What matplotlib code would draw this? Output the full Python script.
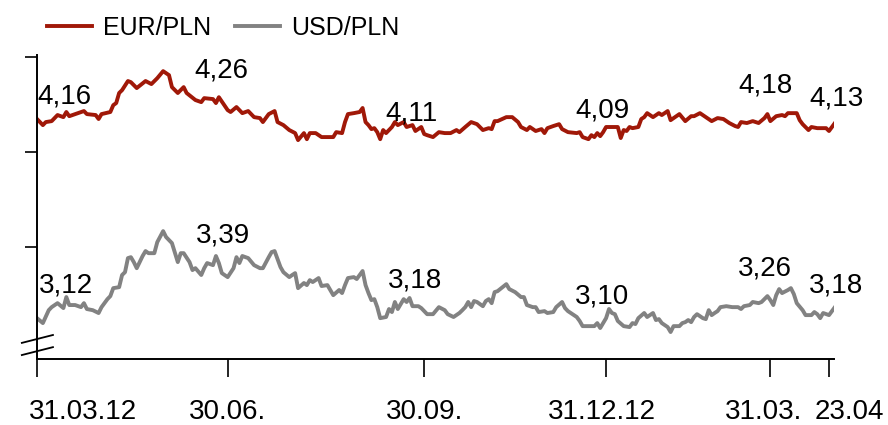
import matplotlib
matplotlib.use("Agg")
import matplotlib.pyplot as plt
from matplotlib import transforms

# EUR/PLN and USD/PLN fixing, 31.03.2012 - 23.04.2013, x = session number
eur_session = [0, 2, 3, 5, 7, 9, 10, 11, 14, 16, 17, 20, 21, 22, 25, 26, 27, 28, 29, 31,
               32, 34, 37, 39, 41, 43, 45, 46, 48, 50, 51, 54, 56, 57, 60, 61, 62, 65, 66, 68,
               70, 72, 74, 76, 77, 79, 81, 82, 84, 86, 88, 89, 91, 92, 93, 95, 97, 99, 101, 102,
               104, 105, 106, 108, 110, 111, 112, 113, 114, 115, 116, 117, 118, 119, 121, 122, 123, 125, 126, 128,
               129, 131, 132, 133, 135, 137, 139, 141, 143, 144, 146, 148, 150, 152, 154, 155, 156, 157, 160, 162,
               164, 165, 167, 168, 170, 172, 173, 174, 176, 178, 179, 181, 184, 185, 186, 188, 189, 190, 191, 192,
               193, 194, 196, 198, 199, 200, 201, 202, 203, 205, 206, 207, 208, 210, 212, 213, 215, 216, 219, 221,
               223, 224, 226, 228, 230, 232, 234, 236, 238, 239, 240, 242, 244, 246, 248, 249, 250, 252, 254, 255,
               256, 259, 260, 261, 263, 264, 266, 269, 270, 271, 272]
eur_rate = [4.174, 4.142, 4.158, 4.163, 4.195, 4.184, 4.211, 4.189, 4.205, 4.216, 4.200, 4.195, 4.174, 4.200, 4.211, 4.247, 4.258, 4.311, 4.326, 4.374,
            4.368, 4.337, 4.374, 4.358, 4.389, 4.426, 4.405, 4.342, 4.311, 4.342, 4.311, 4.274, 4.263, 4.284, 4.279, 4.258, 4.289, 4.221, 4.211, 4.237,
            4.205, 4.216, 4.184, 4.179, 4.158, 4.200, 4.216, 4.158, 4.142, 4.116, 4.100, 4.063, 4.100, 4.068, 4.100, 4.100, 4.079, 4.079, 4.079, 4.105,
            4.100, 4.158, 4.200, 4.205, 4.211, 4.232, 4.158, 4.142, 4.121, 4.126, 4.105, 4.068, 4.116, 4.100, 4.132, 4.158, 4.142, 4.158, 4.132, 4.142,
            4.111, 4.132, 4.095, 4.089, 4.079, 4.105, 4.100, 4.100, 4.116, 4.105, 4.132, 4.158, 4.147, 4.116, 4.126, 4.121, 4.163, 4.163, 4.184, 4.184,
            4.158, 4.132, 4.116, 4.132, 4.111, 4.121, 4.100, 4.126, 4.137, 4.147, 4.121, 4.105, 4.100, 4.105, 4.079, 4.068, 4.089, 4.079, 4.100, 4.084,
            4.105, 4.132, 4.132, 4.132, 4.074, 4.116, 4.111, 4.132, 4.126, 4.132, 4.174, 4.184, 4.205, 4.184, 4.205, 4.195, 4.216, 4.168, 4.200, 4.163,
            4.189, 4.189, 4.205, 4.184, 4.163, 4.179, 4.174, 4.153, 4.137, 4.132, 4.158, 4.153, 4.163, 4.153, 4.179, 4.200, 4.163, 4.189, 4.195, 4.189,
            4.205, 4.205, 4.168, 4.147, 4.116, 4.132, 4.126, 4.126, 4.111, 4.132, 4.153]

usd_session = [0, 2, 4, 5, 7, 9, 10, 11, 13, 15, 16, 17, 19, 21, 22, 24, 25, 26, 28, 29,
               30, 31, 32, 33, 34, 36, 37, 38, 40, 41, 43, 44, 46, 48, 49, 50, 52, 53, 54, 56,
               57, 58, 60, 61, 62, 63, 65, 67, 68, 69, 70, 72, 74, 76, 77, 79, 80, 81, 83, 84,
               86, 87, 88, 89, 91, 92, 93, 94, 96, 97, 99, 100, 101, 103, 104, 105, 106, 108, 109, 111,
               112, 113, 114, 115, 116, 117, 119, 120, 121, 122, 123, 125, 126, 127, 128, 130, 131, 133, 135, 137,
               139, 140, 142, 144, 145, 146, 147, 148, 149, 150, 152, 153, 154, 155, 156, 157, 160, 161, 163, 165,
               166, 167, 169, 170, 171, 173, 174, 176, 177, 179, 180, 181, 183, 184, 185, 186, 188, 190, 191, 192,
               194, 195, 196, 197, 198, 200, 202, 203, 204, 205, 207, 208, 210, 211, 212, 213, 215, 216, 217, 219,
               220, 221, 222, 223, 224, 225, 227, 228, 229, 230, 231, 232, 233, 235, 237, 239, 240, 241, 243, 244,
               246, 247, 249, 250, 251, 252, 253, 254, 256, 257, 258, 259, 261, 262, 264, 265, 266, 267, 268, 270,
               271, 272]
usd_rate = [3.126, 3.100, 3.168, 3.184, 3.205, 3.179, 3.237, 3.195, 3.195, 3.184, 3.205, 3.174, 3.168, 3.153, 3.184, 3.226, 3.242, 3.284, 3.289, 3.353,
            3.368, 3.442, 3.447, 3.421, 3.389, 3.453, 3.479, 3.468, 3.468, 3.526, 3.584, 3.553, 3.521, 3.421, 3.468, 3.468, 3.421, 3.379, 3.389, 3.353,
            3.389, 3.416, 3.405, 3.453, 3.416, 3.363, 3.342, 3.389, 3.447, 3.416, 3.453, 3.442, 3.405, 3.389, 3.389, 3.447, 3.474, 3.479, 3.395, 3.368,
            3.342, 3.353, 3.363, 3.284, 3.311, 3.300, 3.326, 3.316, 3.337, 3.295, 3.300, 3.274, 3.247, 3.274, 3.258, 3.300, 3.337, 3.342, 3.332, 3.374,
            3.300, 3.258, 3.221, 3.226, 3.184, 3.126, 3.132, 3.174, 3.158, 3.211, 3.174, 3.226, 3.211, 3.232, 3.189, 3.189, 3.179, 3.147, 3.147, 3.184,
            3.168, 3.147, 3.132, 3.153, 3.168, 3.184, 3.211, 3.184, 3.216, 3.211, 3.189, 3.216, 3.226, 3.205, 3.263, 3.268, 3.305, 3.279, 3.263, 3.237,
            3.237, 3.195, 3.184, 3.184, 3.158, 3.163, 3.153, 3.158, 3.184, 3.211, 3.179, 3.163, 3.142, 3.132, 3.111, 3.084, 3.084, 3.084, 3.100, 3.074,
            3.126, 3.174, 3.153, 3.147, 3.111, 3.084, 3.079, 3.100, 3.095, 3.126, 3.153, 3.132, 3.153, 3.116, 3.121, 3.100, 3.079, 3.053, 3.084, 3.084,
            3.100, 3.105, 3.116, 3.105, 3.132, 3.147, 3.126, 3.121, 3.168, 3.142, 3.153, 3.163, 3.184, 3.189, 3.184, 3.184, 3.174, 3.189, 3.195, 3.211,
            3.205, 3.211, 3.242, 3.221, 3.195, 3.247, 3.279, 3.258, 3.274, 3.284, 3.253, 3.205, 3.168, 3.142, 3.142, 3.158, 3.147, 3.126, 3.153, 3.142,
            3.163, 3.184]

tick_session = [0, 65, 132, 194, 250, 270]
tick_labels = ["31.03.12", "30.06.", "30.09.", "31.12.12", "31.03.", "23.04"]
tick_shift = [46, 0, 0, -4, -7, 20]   # px, label offset from its tick

eur_labels = ["4,16", "4,26", "4,11", "4,09", "4,18", "4,13"]
eur_values = [4.16, 4.26, 4.11, 4.09, 4.18, 4.13]
usd_labels = ["3,12", "3,39", "3,18", "3,10", "3,26", "3,18"]
usd_values = [3.12, 3.39, 3.18, 3.10, 3.26, 3.18]

# label offsets from (tick, value) in pixels
eur_dx = [0, -6, -13, -4, -5, 7]
eur_dy = [18, 25, 11, 17, 25, 22]
usd_dx = [2, -5, -9, -4, -5, 7]
usd_dy = [27, 25, 20, 20, 17, 15]

EUR_COLOR = "#a01808"
USD_COLOR = "#828282"
FONT = "Liberation Sans"

fig = plt.figure(figsize=(8.88, 4.25), dpi=100)
ax = fig.add_axes([37 / 888, 66 / 425, 797 / 888, 304 / 425])

ax.plot(eur_session, eur_rate, color=EUR_COLOR, lw=2.8, label="EUR/PLN")
ax.plot(usd_session, usd_rate, color=USD_COLOR, lw=2.8, label="USD/PLN")

ax.set_xlim(0, 271.7)
ax.set_ylim(2.911, 4.511)

for s in ["top", "right"]:
    ax.spines[s].set_visible(False)
for s in ["left", "bottom"]:
    ax.spines[s].set_linewidth(1.4)

ax.set_yticks([3.5, 4.0, 4.5])
ax.set_yticklabels([])
ax.tick_params(axis="y", direction="out", length=9, width=1.2)
ax.set_xticks(tick_session)
ax.set_xticklabels(tick_labels, family=FONT, fontsize=20)
ax.tick_params(axis="x", direction="out", length=13, width=1.2, pad=16)
for lab, dx in zip(ax.get_xticklabels(), tick_shift):
    lab.set_transform(lab.get_transform() +
                      transforms.ScaledTranslation(dx / 100, 0, fig.dpi_scale_trans))

px = 0.72
for labels, values, dxs, dys in [(eur_labels, eur_values, eur_dx, eur_dy),
                                 (usd_labels, usd_values, usd_dx, usd_dy)]:
    for i, (t, v) in enumerate(zip(labels, values)):
        ha = "left" if i == 0 else "center"
        ax.annotate(t, xy=(tick_session[i], v), xytext=(dxs[i] * px, dys[i] * px),
                    textcoords="offset points", ha=ha, va="baseline",
                    family=FONT, fontsize=20)

# axis break marks
for y0 in [0.013, 0.053]:
    ax.plot([-0.019, 0.020], [y0, y0 + 0.026], transform=ax.transAxes,
            color="black", lw=1.3, clip_on=False)

fig.legend(loc="upper left", bbox_to_anchor=(0.053, 0.962), ncol=2, frameon=False,
           prop={"family": FONT, "size": 18}, handlelength=1.8,
           handletextpad=0.45, columnspacing=0.95, borderpad=0, borderaxespad=0)

fig.savefig("out.png", dpi=100)
